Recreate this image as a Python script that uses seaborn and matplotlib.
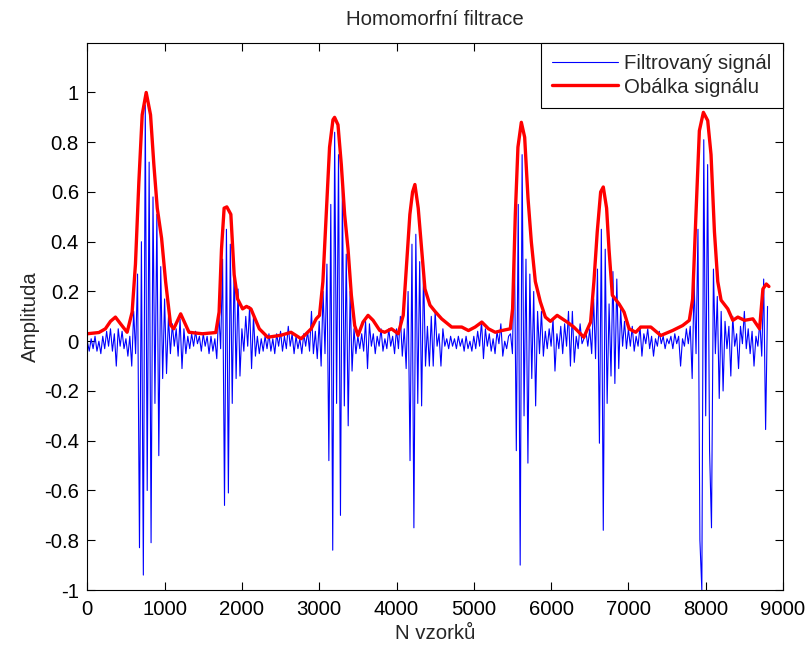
import numpy as np
import pandas as pd
import matplotlib
matplotlib.use("Agg")
import matplotlib.pyplot as plt
import seaborn as sns
from matplotlib.ticker import FuncFormatter

title = "Homomorfní filtrace"
xlabel = "N vzorků"
ylabel = "Amplituda"
series_names = ["Filtrovaný signál", "Obálka signálu"]
xticks = [0, 1000, 2000, 3000, 4000, 5000, 6000, 7000, 8000, 9000]
yticks = [-1, -0.8, -0.6, -0.4, -0.2, 0, 0.2, 0.4, 0.6, 0.8, 1]

# filtered signal, one value every 25 samples
blue_step = 25
blue_y = [
    # 0 - 475
    0.00, -0.04, 0.01, -0.03, 0.02, -0.04, 0.00, -0.05, 0.02, -0.03,
    0.04, -0.02, 0.05, -0.04, 0.03, -0.10, 0.05, -0.02, 0.04, -0.03,
    # 500 - 975
    0.01, -0.06, 0.02, -0.10, 0.12, -0.05, 0.27, -0.83, 0.40, -0.94,
    0.95, -0.60, 0.72, -0.81, 0.58, -0.25, 0.51, -0.46, 0.30, -0.15,
    # 1000 - 1475
    0.17, -0.13, 0.10, -0.05, 0.07, -0.02, 0.05, -0.06, 0.09, -0.11,
    0.05, -0.05, 0.02, -0.03, 0.03, -0.02, 0.04, -0.01, 0.02, -0.04,
    # 1500 - 1975
    0.03, -0.02, 0.02, -0.05, 0.02, -0.04, 0.01, -0.07, 0.12, -0.03,
    0.33, -0.66, 0.45, -0.61, 0.39, -0.25, 0.31, -0.15, 0.21, -0.14,
    # 2000 - 2475
    0.05, -0.04, 0.10, -0.02, 0.14, -0.11, 0.10, -0.06, 0.02, -0.05,
    0.01, -0.04, 0.02, -0.03, 0.03, -0.04, 0.01, -0.05, 0.03, -0.02,
    # 2500 - 2975
    0.04, -0.04, 0.02, -0.03, 0.06, -0.02, 0.03, -0.05, 0.02, -0.03,
    0.01, -0.05, 0.03, -0.02, 0.04, -0.04, 0.12, -0.05, 0.04, -0.07,
    # 3000 - 3475
    0.08, -0.10, 0.20, -0.05, 0.31, -0.48, 0.55, -0.84, 0.84, -0.25,
    0.75, -0.70, 0.62, -0.26, 0.35, -0.34, 0.20, -0.12, 0.05, -0.05,
    # 3500 - 3975
    0.02, -0.03, 0.03, -0.04, 0.08, -0.11, 0.07, -0.02, 0.03, -0.05,
    0.02, -0.02, 0.05, -0.04, 0.01, -0.03, 0.05, -0.02, 0.02, -0.05,
    # 4000 - 4475
    0.05, -0.03, 0.10, -0.06, 0.05, -0.11, 0.20, -0.48, 0.39, -0.75,
    0.43, -0.25, 0.32, -0.26, 0.29, -0.10, 0.06, -0.10, 0.10, -0.10,
    # 4500 - 4975
    0.12, -0.02, 0.03, -0.10, 0.05, -0.02, 0.01, -0.03, 0.02, -0.02,
    0.01, -0.03, 0.02, -0.02, 0.01, -0.04, 0.02, -0.03, 0.00, -0.04,
    # 5000 - 5475
    0.02, -0.03, 0.04, -0.02, 0.08, -0.07, 0.05, -0.02, 0.03, -0.04,
    0.01, -0.05, 0.04, -0.01, 0.07, -0.06, 0.00, -0.03, 0.02, 0.03,
    # 5500 - 5975
    -0.05, 0.40, -0.44, 0.55, -0.90, 0.75, -0.30, 0.33, -0.49, 0.27,
    -0.15, 0.20, -0.26, 0.12, -0.05, 0.12, -0.06, 0.04, -0.03, 0.05,
    # 6000 - 6475
    -0.02, 0.09, -0.12, 0.03, -0.03, 0.06, -0.05, 0.07, -0.02, 0.12,
    -0.10, 0.12, -0.085, 0.02, -0.03, 0.07, -0.01, 0.01, 0.04, -0.02,
    # 6500 - 6975
    0.05, -0.05, 0.17, -0.07, 0.29, -0.41, 0.45, -0.76, 0.37, -0.25,
    0.15, -0.14, 0.28, -0.17, 0.25, -0.11, 0.13, -0.02, 0.08, -0.03,
    # 7000 - 7475
    0.05, -0.02, 0.06, -0.04, 0.02, -0.02, 0.06, -0.06, 0.03, -0.01,
    0.05, -0.03, 0.02, -0.06, 0.01, -0.02, 0.04, -0.01, 0.02, -0.03,
    # 7500 - 7975
    0.01, -0.01, 0.02, -0.03, 0.03, -0.01, 0.02, -0.10, 0.01, -0.02,
    0.05, -0.01, 0.06, -0.15, 0.24, -0.05, 0.45, -0.80, -1.00, 0.81,
    # 8000 - 8475
    -0.30, 0.71, -0.44, -0.75, 0.29, -0.05, 0.18, -0.23, 0.12, -0.20,
    0.08, -0.03, 0.06, -0.14, 0.10, -0.02, 0.03, -0.11, 0.06, -0.01,
    # 8500 - 8800
    0.12, -0.03, 0.05, -0.05, 0.04, -0.10, 0.02, -0.02, 0.08, -0.06,
    0.25, -0.355, 0.14,
]

# envelope (sample, amplitude)
red_x = [0, 150, 234, 300, 364, 430, 515, 580, 623, 667, 710, 762, 818, 861,
         905, 961, 1013, 1078, 1118, 1208, 1316, 1489, 1662, 1705, 1736, 1770,
         1805, 1857, 1900, 1944, 2009, 2060, 2117, 2225, 2334, 2506, 2636,
         2766, 2896, 2961, 3004, 3048, 3091, 3134, 3178, 3199, 3243, 3286,
         3329, 3373, 3416, 3459, 3502, 3567, 3632, 3697, 3784, 3848, 3935,
         4022, 4087, 4130, 4173, 4208, 4238, 4281, 4325, 4368, 4433, 4498,
         4584, 4714, 4844, 4931, 5017, 5104, 5190, 5277, 5364, 5472, 5502,
         5537, 5571, 5615, 5658, 5701, 5744, 5796, 5861, 5926, 5991, 6078,
         6208, 6294, 6424, 6511, 6554, 6597, 6641, 6675, 6718, 6749, 6792,
         6879, 6944, 7009, 7095, 7160, 7290, 7419, 7571, 7701, 7788, 7831,
         7874, 7918, 7970, 8026, 8069, 8113, 8156, 8199, 8286, 8351, 8416,
         8502, 8610, 8697, 8740, 8784, 8818]
red_y = [0.03, 0.035, 0.05, 0.08, 0.097, 0.07, 0.036, 0.117, 0.31, 0.64, 0.91,
         1.0, 0.91, 0.71, 0.535, 0.414, 0.24, 0.065, 0.05, 0.11, 0.036, 0.03,
         0.035, 0.117, 0.37, 0.535, 0.54, 0.51, 0.267, 0.17, 0.13, 0.14, 0.13,
         0.05, 0.016, 0.024, 0.036, 0.01, 0.05, 0.09, 0.104, 0.24, 0.51, 0.78,
         0.89, 0.90, 0.87, 0.71, 0.51, 0.37, 0.185, 0.063, 0.023, 0.077,
         0.104, 0.084, 0.043, 0.036, 0.05, 0.03, 0.104, 0.306, 0.51, 0.60,
         0.63, 0.535, 0.37, 0.21, 0.145, 0.12, 0.09, 0.057, 0.057, 0.043,
         0.057, 0.077, 0.05, 0.036, 0.043, 0.05, 0.13, 0.51, 0.78, 0.88, 0.82,
         0.576, 0.40, 0.24, 0.158, 0.097, 0.08, 0.104, 0.077, 0.057, 0.016,
         0.077, 0.24, 0.44, 0.60, 0.62, 0.535, 0.37, 0.185, 0.15, 0.117, 0.05,
         0.036, 0.057, 0.057, 0.023, 0.043, 0.063, 0.084, 0.17, 0.51, 0.846,
         0.92, 0.887, 0.75, 0.44, 0.24, 0.165, 0.13, 0.084, 0.097, 0.084,
         0.09, 0.05, 0.21, 0.23, 0.22]

blue_x = np.arange(len(blue_y)) * blue_step
df_blue = pd.DataFrame({"sample": blue_x, "value": blue_y})
df_red = pd.DataFrame({"sample": red_x, "value": red_y})

sns.set_style("ticks")
plt.rcParams["font.family"] = ["Liberation Sans Narrow", "Liberation Sans", "DejaVu Sans"]
plt.rcParams["axes.unicode_minus"] = False
plt.rcParams["xtick.direction"] = "in"
plt.rcParams["ytick.direction"] = "in"
plt.rcParams["xtick.top"] = True
plt.rcParams["ytick.right"] = True

FS = 14.7
W, H = 806, 646
fig = plt.figure(figsize=(W / 100, H / 100), dpi=100)
fig.patch.set_facecolor("white")
left, right, top, bottom = 87.3, 783.0, 42.7, 590.0
ax = fig.add_axes([left / W, (H - bottom) / H, (right - left) / W, (bottom - top) / H])

sns.lineplot(data=df_blue, x="sample", y="value", ax=ax, color="#0000ff",
             linewidth=0.8, estimator=None, sort=False, label=series_names[0])
sns.lineplot(data=df_red, x="sample", y="value", ax=ax, color="#ff0000",
             linewidth=2.4, estimator=None, sort=False, label=series_names[1])

ax.set_xlim(0, 9000)
ax.set_ylim(-1, 1.2)
ax.set_xticks(xticks)
ax.set_yticks(yticks)
fmt = FuncFormatter(lambda v, p: f"{v:g}")
ax.xaxis.set_major_formatter(fmt)
ax.yaxis.set_major_formatter(fmt)
ax.tick_params(axis="both", which="major", length=6, width=0.8, labelsize=FS,
               colors="black", pad=6)
ax.tick_params(axis="x", pad=7)
for sp in ax.spines.values():
    sp.set_visible(True)
    sp.set_color("black")
    sp.set_linewidth(0.8)

ax.set_title(title, fontsize=FS, pad=12.5)
ax.set_xlabel(xlabel, fontsize=FS, labelpad=4)
ax.set_ylabel(ylabel, fontsize=FS, labelpad=3)

leg = ax.legend(loc="upper right", borderaxespad=0, frameon=True, fancybox=False,
                edgecolor="black", framealpha=1, fontsize=FS, handlelength=3.2,
                borderpad=0.56, labelspacing=0.22, handletextpad=0.33)
leg.get_frame().set_linewidth(0.8)

fig.savefig("out.png", dpi=100, facecolor="white")
